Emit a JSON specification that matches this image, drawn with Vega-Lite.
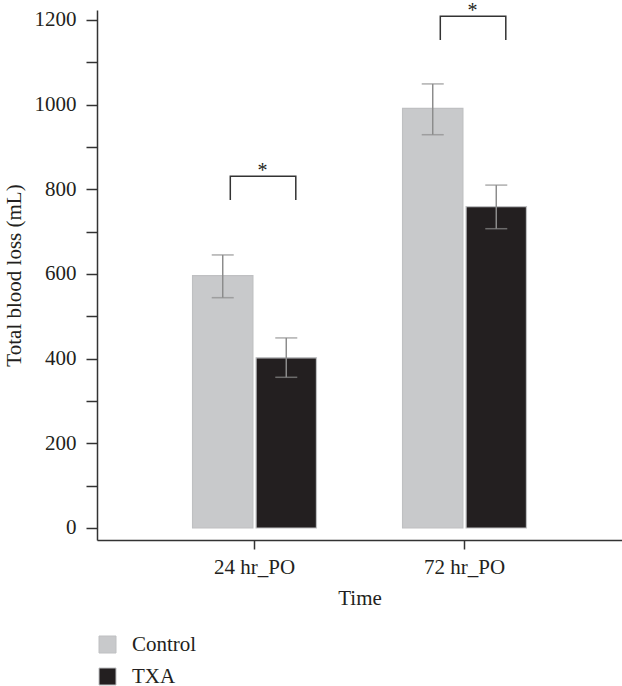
{
  "$schema": "https://vega.github.io/schema/vega-lite/v6.json",
  "width": 525,
  "height": 530,
  "autosize": {"type": "none"},
  "padding": {"left": 97, "top": 10, "right": 0, "bottom": 146},
  "config": {
    "view": {"stroke": null},
    "font": "Liberation Serif",
    "scale": {"offsetBandPaddingInner": 0.05},
    "axis": {"labelFont": "Liberation Serif", "titleFont": "Liberation Serif", "labelFontSize": 21, "titleFontSize": 21, "titleFontWeight": "normal", "labelColor": "#231f20", "titleColor": "#231f20", "domainColor": "#333333", "tickColor": "#333333", "domainWidth": 1.5, "tickWidth": 1.5, "grid": false},
    "legend": {"labelFont": "Liberation Serif", "labelFontSize": 21, "labelColor": "#231f20"}
  },
  "resolve": {"scale": {"xOffset": "independent"}},
  "datasets": {
    "bars": [
      {"time": "24 hr_PO", "group": "Control", "mean": 596, "lo": 544, "hi": 645},
      {"time": "24 hr_PO", "group": "TXA", "mean": 402, "lo": 356, "hi": 449},
      {"time": "72 hr_PO", "group": "Control", "mean": 991, "lo": 929, "hi": 1049},
      {"time": "72 hr_PO", "group": "TXA", "mean": 759, "lo": 707, "hi": 810}
    ],
    "brackets": [
      {"time": "24 hr_PO", "group": "Control", "v": 775, "o": 1},
      {"time": "24 hr_PO", "group": "Control", "v": 831, "o": 2},
      {"time": "24 hr_PO", "group": "TXA", "v": 831, "o": 3},
      {"time": "24 hr_PO", "group": "TXA", "v": 775, "o": 4},
      {"time": "72 hr_PO", "group": "Control", "v": 1153, "o": 1},
      {"time": "72 hr_PO", "group": "Control", "v": 1209, "o": 2},
      {"time": "72 hr_PO", "group": "TXA", "v": 1209, "o": 3},
      {"time": "72 hr_PO", "group": "TXA", "v": 1153, "o": 4}
    ],
    "stars": [
      {"time": "24 hr_PO", "v": 831, "label": "*"},
      {"time": "72 hr_PO", "v": 1209, "label": "*"}
    ]
  },
  "layer": [
    {
      "data": {"name": "bars"},
      "mark": {"type": "bar", "stroke": "#bfc0c2", "strokeWidth": 1.2},
      "encoding": {
        "x": {"field": "time", "type": "nominal", "sort": null, "scale": {"paddingInner": 0.41, "paddingOuter": 0.455},
          "axis": {"title": "Time", "labelAngle": 0, "tickSize": 9, "labelPadding": 7, "titlePadding": 10}},
        "xOffset": {"field": "group", "type": "nominal", "sort": null},
        "y": {"field": "mean", "type": "quantitative", "scale": {"domain": [-28.35, 1223.6], "nice": false, "zero": false},
          "axis": {"title": "Total blood loss (mL)", "values": [0,100,200,300,400,500,600,700,800,900,1000,1100,1200], "labelExpr": "datum.value % 200 === 0 ? datum.label : ''", "format": "d", "tickSize": 11, "labelPadding": 10, "titlePadding": 10}},
        "y2": {"datum": 0},
        "color": {"field": "group", "type": "nominal", "sort": null,
          "scale": {"domain": ["Control", "TXA"], "range": ["#c8c9cb", "#231f20"]},
          "legend": {"title": null, "orient": "none", "legendX": 0, "legendY": 624, "symbolType": "square", "symbolSize": 289, "symbolStrokeColor": "#bfc0c2", "symbolStrokeWidth": 1, "labelOffset": 14, "rowPadding": 10, "direction": "vertical"}}
      }
    },
    {
      "data": {"name": "bars"},
      "mark": {"type": "rule", "color": "#8c8c8c", "strokeWidth": 1.5},
      "encoding": {
        "x": {"field": "time", "type": "nominal", "sort": null},
        "xOffset": {"field": "group", "type": "nominal", "sort": null},
        "y": {"field": "lo", "type": "quantitative"},
        "y2": {"field": "hi"}
      }
    },
    {
      "data": {"name": "bars"},
      "mark": {"type": "tick", "color": "#8c8c8c", "thickness": 1.5, "size": 22, "orient": "horizontal"},
      "encoding": {
        "x": {"field": "time", "type": "nominal", "sort": null},
        "xOffset": {"field": "group", "type": "nominal", "sort": null},
        "y": {"field": "lo", "type": "quantitative"}
      }
    },
    {
      "data": {"name": "bars"},
      "mark": {"type": "tick", "color": "#8c8c8c", "thickness": 1.5, "size": 22, "orient": "horizontal"},
      "encoding": {
        "x": {"field": "time", "type": "nominal", "sort": null},
        "xOffset": {"field": "group", "type": "nominal", "sort": null},
        "y": {"field": "hi", "type": "quantitative"}
      }
    },
    {
      "data": {"name": "brackets"},
      "mark": {"type": "line", "color": "#333333", "strokeWidth": 1.5},
      "encoding": {
        "x": {"field": "time", "type": "nominal", "sort": null},
        "xOffset": {"field": "group", "type": "nominal", "sort": null, "scale": {"range": [5, 136]}},
        "y": {"field": "v", "type": "quantitative"},
        "detail": {"field": "time"},
        "order": {"field": "o", "type": "quantitative"}
      }
    },
    {
      "data": {"name": "stars"},
      "mark": {"type": "text", "font": "Liberation Serif", "fontSize": 20, "color": "#231f20", "baseline": "alphabetic", "dy": 1, "xOffset": 8},
      "encoding": {
        "x": {"field": "time", "type": "nominal", "sort": null},
        "y": {"field": "v", "type": "quantitative"},
        "text": {"field": "label"}
      }
    }
  ]
}
